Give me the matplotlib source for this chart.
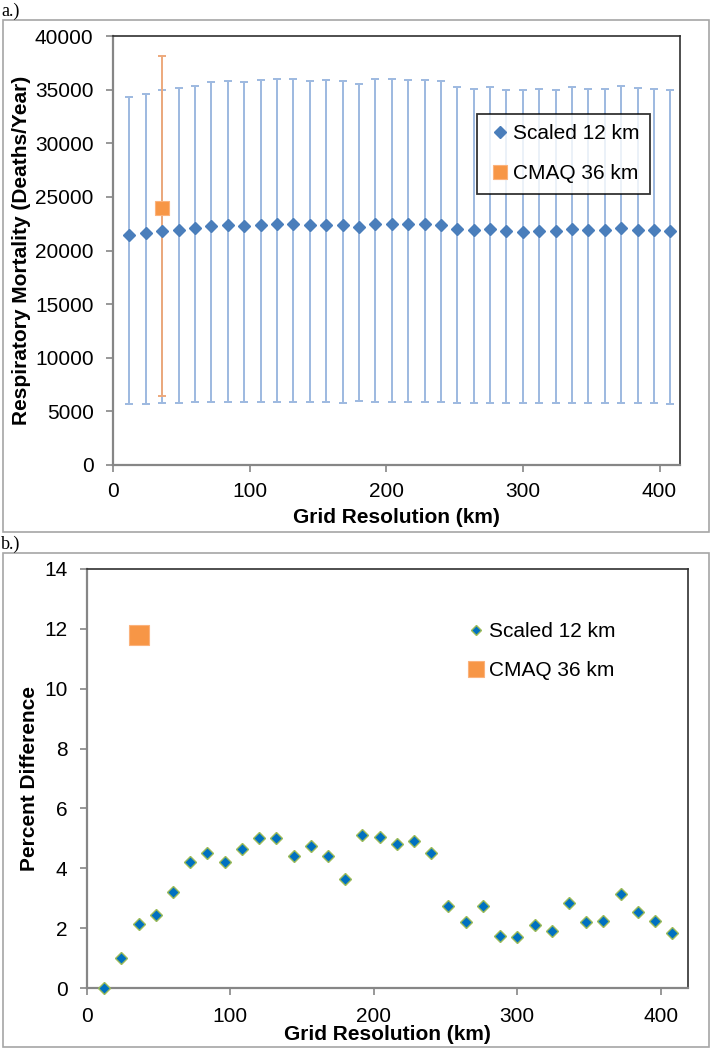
import matplotlib
matplotlib.use("Agg")
import matplotlib.pyplot as plt
import numpy as np
from matplotlib.patches import Rectangle

plt.rcParams["font.family"] = ["Liberation Sans", "DejaVu Sans"]

# grid resolution (km)
grid_km = [12, 24, 36, 48, 60, 72, 84, 96, 108, 120, 132, 144, 156, 168, 180,
           192, 204, 216, 228, 240, 252, 264, 276, 288, 300, 312, 324, 336,
           348, 360, 372, 384, 396, 408]

# panel a: scaled 12 km respiratory mortality (deaths/year) with 95% bounds
mort_mean = [21400, 21610, 21860, 21920, 22090, 22300, 22360, 22300, 22400,
             22470, 22470, 22340, 22420, 22340, 22180, 22490, 22480, 22430,
             22450, 22360, 21990, 21870, 21990, 21780, 21760, 21850, 21810,
             22010, 21870, 21880, 22070, 21940, 21880, 21800]
mort_high = [34290, 34570, 35000, 35120, 35340, 35670, 35800, 35670, 35860,
             35950, 35950, 35770, 35890, 35770, 35550, 36010, 35980, 35890,
             35890, 35830, 35250, 35060, 35250, 34940, 34940, 35060, 35000,
             35280, 35090, 35090, 35370, 35180, 35090, 35000]
mort_low = [5650, 5700, 5800, 5800, 5850, 5850, 5850, 5850, 5900, 5900, 5900,
            5900, 5850, 5800, 5950, 5850, 5850, 5850, 5850, 5850, 5800, 5800,
            5800, 5750, 5750, 5750, 5750, 5800, 5750, 5750, 5800, 5750, 5750,
            5700]

# CMAQ 36 km
cmaq_km = [36]
cmaq_mean = [23950]
cmaq_high = [38130]
cmaq_low = [6400]

# panel b: percent difference from 12 km
pct_diff = [0.0, 1.0, 2.15, 2.45, 3.2, 4.2, 4.5, 4.2, 4.65, 5.0, 5.0, 4.4,
            4.75, 4.4, 3.65, 5.1, 5.05, 4.8, 4.9, 4.5, 2.75, 2.2, 2.75, 1.75,
            1.7, 2.1, 1.9, 2.85, 2.2, 2.25, 3.15, 2.55, 2.25, 1.85]
cmaq_pct = [11.8]

BLUE = "#4A7EBB"
ERR_BLUE = "#9DB9E0"
ORANGE = "#F79646"
ERR_ORANGE = "#EDA97C"
DIAM_B = "#0070C0"
EDGE_B = "#9BBB59"
AXIS_GREY = "#868686"
W, H = 717, 1050


def fx(px):
    return px / W


def fy(px):
    return 1 - px / H


def style(ax):
    for s in ("top", "right"):
        ax.spines[s].set_color("#303030")
        ax.spines[s].set_linewidth(1.2)
    for s in ("left", "bottom"):
        ax.spines[s].set_color(AXIS_GREY)
        ax.spines[s].set_linewidth(1.6)
    ax.tick_params(axis="both", direction="out", length=5, width=1.2,
                   color=AXIS_GREY, labelsize=15, labelcolor="black")
    ax.tick_params(axis="y", pad=9)
    ax.tick_params(axis="x", pad=7)


fig = plt.figure(figsize=(W / 100, H / 100), dpi=100)

# outer chart frames
for top, bot in ((20, 532), (553, 1047)):
    fig.patches.append(Rectangle((fx(3), fy(bot)), fx(709) - fx(3), fy(top) - fy(bot),
                                 transform=fig.transFigure, fill=False,
                                 edgecolor="#A6A6A6", linewidth=1.2))
fig.text(fx(1), fy(11), "a.)", family="Liberation Serif", fontsize=13,
         ha="left", va="center")
fig.text(fx(1), fy(544), "b.)", family="Liberation Serif", fontsize=13,
         ha="left", va="center")

# ---- panel a
ax = fig.add_axes([fx(113), fy(465), fx(680) - fx(113), fy(36) - fy(465)])
m = np.array(mort_mean)
ax.errorbar(grid_km, m, yerr=[m - np.array(mort_low), np.array(mort_high) - m],
            fmt="none", ecolor=ERR_BLUE, elinewidth=1.4, capsize=2.6,
            capthick=1.4, zorder=2)
cm = np.array(cmaq_mean)
ax.errorbar(cmaq_km, cm, yerr=[cm - np.array(cmaq_low), np.array(cmaq_high) - cm],
            fmt="none", ecolor=ERR_ORANGE, elinewidth=1.4, capsize=2.6,
            capthick=1.4, zorder=3)
ax.plot(grid_km, mort_mean, linestyle="none", marker="D", markersize=6.2,
        color=BLUE, markeredgecolor=BLUE, label="Scaled 12 km", zorder=4)
ax.plot(cmaq_km, cmaq_mean, linestyle="none", marker="s", markersize=10,
        color=ORANGE, markeredgecolor="#FBB27C", markeredgewidth=0.8,
        label="CMAQ 36 km", zorder=5)
ax.set_xlim(0, 415)
ax.set_ylim(0, 40000)
ax.set_xticks([0, 100, 200, 300, 400])
ax.set_yticks(np.arange(0, 40001, 5000))
ax.set_xlabel("Grid Resolution (km)", fontsize=15, fontweight="bold", labelpad=5)
ax.set_ylabel("Respiratory Mortality (Deaths/Year)", fontsize=15,
              fontweight="bold", labelpad=3)
style(ax)
leg = ax.legend(loc="upper left", bbox_to_anchor=(fx(477), fy(114)),
                bbox_transform=fig.transFigure, fontsize=15, frameon=True,
                fancybox=False, borderpad=0.5, labelspacing=1.0,
                handlelength=1.2, handletextpad=0.05, borderaxespad=0)
leg.get_frame().set_edgecolor("black")
leg.get_frame().set_linewidth(1.3)

# ---- panel b
bx = fig.add_axes([fx(87), fy(988), fx(688) - fx(87), fy(569) - fy(988)])
bx.plot(grid_km, pct_diff, linestyle="none", marker="D", markersize=5.8,
        color=DIAM_B, markeredgecolor=EDGE_B, markeredgewidth=1.0,
        label="Scaled 12 km", zorder=4, clip_on=False)
bx.plot(cmaq_km, cmaq_pct, linestyle="none", marker="s", markersize=14,
        color=ORANGE, markeredgecolor="#FBB27C", markeredgewidth=0.8,
        label="CMAQ 36 km", zorder=5)
bx.set_xlim(0, 419)
bx.set_ylim(0, 14)
bx.set_xticks([0, 100, 200, 300, 400])
bx.set_yticks(np.arange(0, 15, 2))
bx.set_xlabel("Grid Resolution (km)", fontsize=15, fontweight="bold", labelpad=-1)
bx.set_ylabel("Percent Difference", fontsize=15, fontweight="bold", labelpad=4)
style(bx)
bx.tick_params(axis="x", pad=9)
leg_b = bx.legend(loc="upper left", bbox_to_anchor=(fx(466), fy(622)),
                  bbox_transform=fig.transFigure, fontsize=15, frameon=False,
                  borderpad=0, labelspacing=0.95, handlelength=1.0,
                  handletextpad=0.1, borderaxespad=0, markerscale=0.8)

fig.savefig("out.png", dpi=100)
